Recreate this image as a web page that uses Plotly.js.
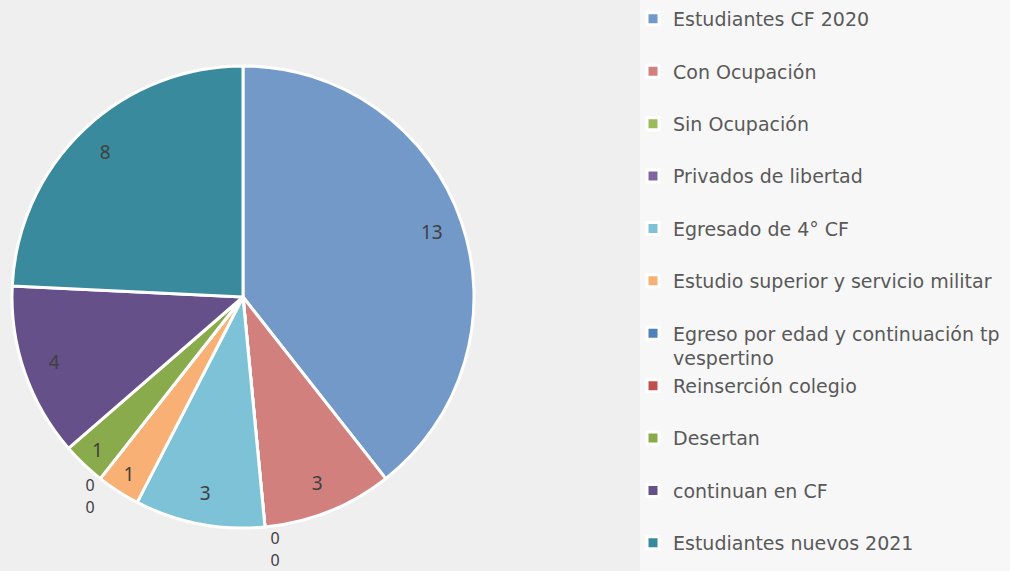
<!DOCTYPE html>
<html>
<head>
<meta charset="utf-8">
<script src="https://cdn.plot.ly/plotly-3.0.1.min.js"></script>
<style>
html,body{margin:0;padding:0;background:#efefef;}
#chart{width:1010px;height:571px;}
path.textline{display:none !important;}
</style>
</head>
<body>
<div id="chart"></div>
<script>
const categories = [
  "Estudiantes CF 2020",
  "Con Ocupación",
  "Sin Ocupación",
  "Privados de libertad",
  "Egresado de 4° CF",
  "Estudio superior y servicio militar",
  "Egreso por edad y continuación tp vespertino",
  "Reinserción colegio",
  "Desertan",
  "continuan en CF",
  "Estudiantes nuevos 2021"
];
const values = [13, 3, 0, 0, 3, 1, 0, 0, 1, 4, 8];
const colors = [
  "#7399c9", "#d2807e", "#9bbb59", "#8064a2", "#7dc2d6", "#f9b074",
  "#4f81bd", "#c0504d", "#8aab4b", "#65508a", "#3a8a9e"
];

// legend display: wrap long label, pad others to two lines for spacing
const displayLabels = categories.map(c =>
  c === "Egreso por edad y continuación tp vespertino"
    ? "Egreso por edad y continuación tp<br>vespertino"
    : c + "<br>&nbsp;"
);

const pieDomain = {x: [12/1010, 474/1010], y: [1 - 528/571, 1 - 66/571]};
const labelFont = {family: "Noto Sans, sans-serif", size: 19, color: "#404040"};

// the coloured slices
const slices = {
  type: "pie",
  labels: displayLabels,
  values: values,
  sort: false,
  direction: "clockwise",
  rotation: 0,
  marker: {colors: colors, line: {color: "#ffffff", width: 3}},
  textinfo: "none",
  domain: pieDomain,
  hoverinfo: "label+value"
};

// same data again as a transparent ring: places the value labels near the rim
const valueLabels = {
  type: "pie",
  labels: displayLabels,
  values: values,
  sort: false,
  direction: "clockwise",
  rotation: 0,
  hole: 0.73,
  showlegend: false,
  marker: {colors: values.map(() => "rgba(0,0,0,0)"), line: {width: 0}},
  textinfo: "value",
  textposition: values.map(v => v > 0 ? "inside" : "outside"),
  insidetextorientation: "horizontal",
  textfont: labelFont,
  insidetextfont: labelFont,
  outsidetextfont: {family: "Noto Sans, sans-serif", size: 16, color: "#404040"},
  domain: pieDomain,
  hoverinfo: "skip"
};

const layout = {
  width: 1010,
  height: 571,
  margin: {l: 0, r: 0, t: 0, b: 0},
  paper_bgcolor: "#efefef",
  plot_bgcolor: "#efefef",
  showlegend: true,
  shapes: [{
    type: "rect", xref: "paper", yref: "paper",
    x0: 640/1010, x1: 1, y0: 0, y1: 1,
    fillcolor: "#f7f7f7", line: {width: 0}, layer: "below"
  }],
  legend: {
    x: 633/1010, xanchor: "left",
    y: 1 - 6/571, yanchor: "top",
    bgcolor: "rgba(0,0,0,0)",
    valign: "top",
    font: {family: "DejaVu Sans, sans-serif", size: 19, color: "#595959"}
  }
};

Plotly.newPlot("chart", [slices, valueLabels], layout, {displayModeBar: false, staticPlot: true});
</script>
</body>
</html>
